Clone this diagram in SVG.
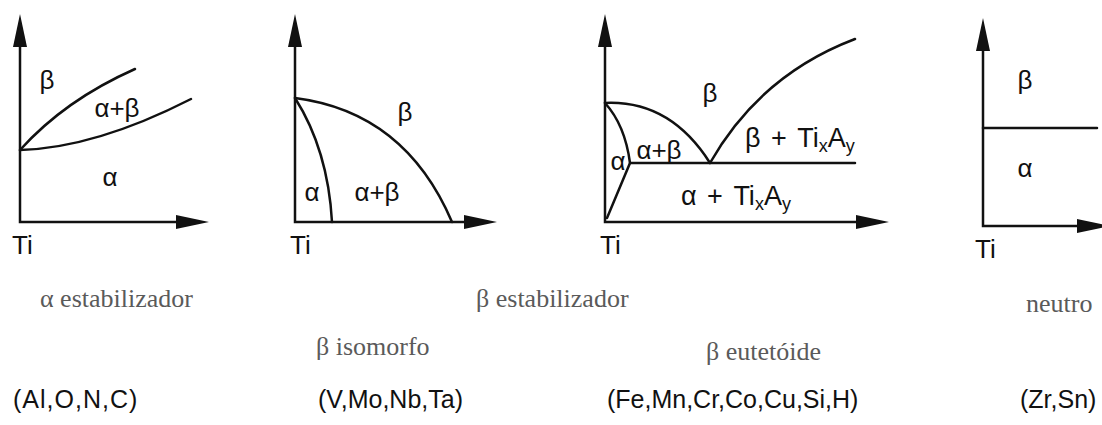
<svg xmlns="http://www.w3.org/2000/svg" width="1102" height="425" viewBox="0 0 1102 425">
<style>
.ax{fill:none;stroke:#111;stroke-width:2.5;marker-start:url(#ah);marker-end:url(#ah)}
.ln{fill:none;stroke:#111;stroke-width:2.5;stroke-linecap:round}
.lb{font-family:"Liberation Sans",Arial,sans-serif;font-size:26px;fill:#111}
.gr{font-family:"Liberation Sans",Arial,sans-serif;font-size:26px;fill:#111;text-anchor:middle}
.ph{font-family:"Liberation Sans",Arial,sans-serif;font-size:27px;fill:#111;word-spacing:3px}
.sub{font-size:18px}
.cap{font-family:"Liberation Serif","Times New Roman",serif;font-size:26px;fill:#5a5a5a}
.el{font-family:"Liberation Sans",Arial,sans-serif;font-size:25px;fill:#111}
</style>
<defs>
<marker id="ah" markerUnits="userSpaceOnUse" markerWidth="34" markerHeight="14" refX="1" refY="7" orient="auto-start-reverse">
<path d="M0,0 L33,7 L0,14 z" fill="#111"/>
</marker>
</defs>
<rect width="1102" height="425" fill="#fff"/>

<g id="alpha-stabilizer">
<path class="ax" d="M20,46 L20,222 L177,222"/>
<path class="ln" d="M20,150 Q65,100 135,69"/>
<path class="ln" d="M20,150 Q95,148 191,99"/>
<text class="gr" x="47" y="89">β</text>
<text class="gr" x="117" y="117">α+β</text>
<text class="gr" x="110" y="186">α</text>
<text class="lb" x="12" y="254">Ti</text>
</g>

<g id="beta-isomorphous">
<path class="ax" d="M295,46 L295,222 L465,222"/>
<path class="ln" d="M295,98 Q405,112 452,222"/>
<path class="ln" d="M295,98 Q328,150 332,222"/>
<text class="gr" x="405" y="121">β</text>
<text class="gr" x="312" y="201">α</text>
<text class="gr" x="377" y="201">α+β</text>
<text class="lb" x="290" y="254">Ti</text>
</g>

<g id="beta-eutectoid">
<path class="ax" d="M605,46 L605,222 L857,222"/>
<path class="ln" d="M605,103 Q670,100 710,163"/>
<path class="ln" d="M710,163 Q760,75 855,39"/>
<path class="ln" d="M630,163 L855,163"/>
<path class="ln" d="M605,103 Q625,125 630,163 L607,218"/>
<text class="gr" x="710" y="102">β</text>
<text class="ph" x="745" y="147">β + Ti<tspan class="sub" dy="5">x</tspan><tspan dy="-5">A</tspan><tspan class="sub" dy="5">y</tspan></text>
<text class="gr" x="618" y="170">α</text>
<text class="gr" x="659" y="159">α+β</text>
<text class="ph" x="681" y="205">α + Ti<tspan class="sub" dy="5">x</tspan><tspan dy="-5">A</tspan><tspan class="sub" dy="5">y</tspan></text>
<text class="lb" x="600" y="254">Ti</text>
</g>

<g id="neutral">
<path class="ax" d="M983,50 L983,226 L1078,226"/>
<path class="ln" d="M983,128 L1097,128"/>
<text class="gr" x="1025" y="89">β</text>
<text class="gr" x="1025" y="177">α</text>
<text class="lb" x="975" y="258">Ti</text>
</g>

<g id="captions">
<text class="cap" x="40" y="307">α estabilizador</text>
<text class="cap" x="476" y="307">β estabilizador</text>
<text class="cap" x="1026" y="312">neutro</text>
<text class="cap" x="316" y="355">β isomorfo</text>
<text class="cap" x="706" y="360">β eutetóide</text>
<text class="el" x="13" y="408" font-size="26" letter-spacing="1">(Al,O,N,C)</text>
<text class="el" x="318" y="408">(V,Mo,Nb,Ta)</text>
<text class="el" x="607" y="408" font-size="24">(Fe,Mn,Cr,Co,Cu,Si,H)</text>
<text class="el" x="1020" y="408">(Zr,Sn)</text>
</g>
</svg>
